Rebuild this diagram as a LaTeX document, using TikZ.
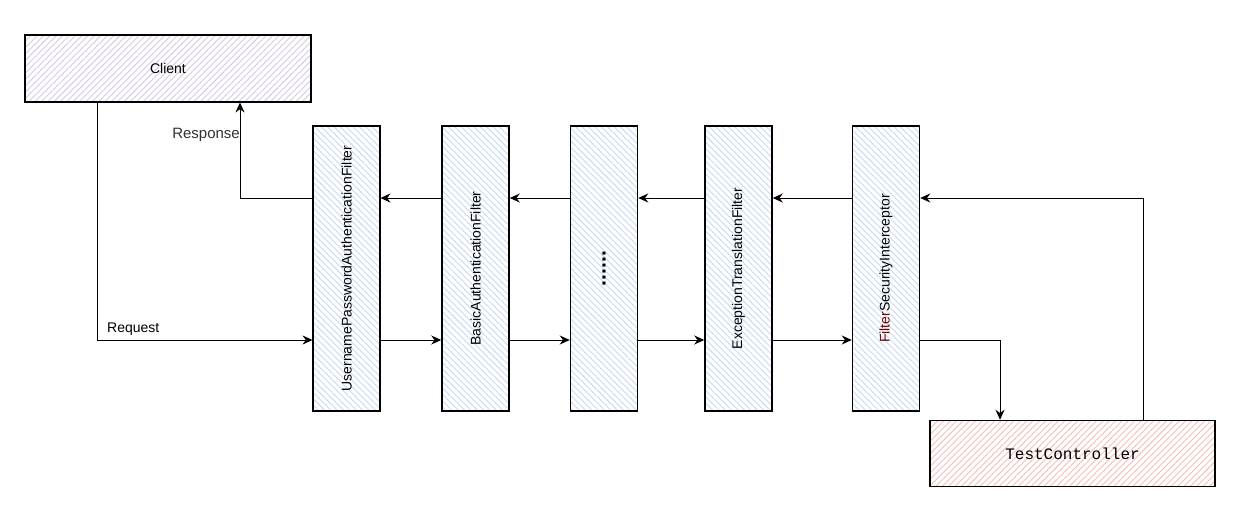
\documentclass[tikz,border=0pt]{standalone}
\usepackage{fontspec}
\setmainfont{Liberation Sans}
\newfontfamily\codefont{Liberation Mono}
\usetikzlibrary{arrows.meta,patterns.meta}

\definecolor{clienthatch}{HTML}{D9C8E2}
\definecolor{filterhatch}{HTML}{C6D8F4}
\definecolor{ctrlhatch}{HTML}{F5BDBA}
\definecolor{labelgray}{HTML}{333333}
\definecolor{filterred}{HTML}{6E0000}

\begin{document}
\begin{tikzpicture}[
  x=1pt,y=-1pt,>={Stealth[length=10pt,width=9pt]},
  every node/.style={font=\fontsize{14}{16}\selectfont},
  client/.style={draw,line width=1.5pt,minimum width=286pt,minimum height=67pt,
    pattern={Lines[angle=45,distance=4.5pt,line width=.9pt]},pattern color=clienthatch},
  filterbox/.style={draw,line width=1.5pt,minimum width=67pt,minimum height=285pt,inner sep=0pt,
    pattern={Lines[angle=-45,distance=4.5pt,line width=.9pt]},pattern color=filterhatch},
  controller/.style={draw,line width=1.5pt,minimum width=285pt,minimum height=66pt,
    pattern={Lines[angle=45,distance=4.5pt,line width=.9pt]},pattern color=ctrlhatch,
    font=\codefont\fontsize{16}{18}\selectfont},
  flow/.style={->,line width=1pt}
]
\useasboundingbox (0,0) rectangle (1260,512);
\node[client] (client) at (168,68.5) {Client};
\node[filterbox] (upaf) at (346.5,268.5) {\rotatebox{90}{UsernamePasswordAuthenticationFilter}};
\node[filterbox] (baf) at (475.5,268.5) {\rotatebox{90}{BasicAuthenticationFilter}};
\node[filterbox,font=\fontsize{21}{24}\selectfont] (more) at (604,268.5) {\rotatebox{90}{\textbf{......}}};
\node[filterbox] (etf) at (738.5,268.5) {\rotatebox{90}{ExceptionTranslationFilter}};
\node[filterbox] (fsi) at (886,268.5) {\rotatebox{90}{\textcolor{filterred}{Filter}SecurityInterceptor}};
\node[controller] (ctrl) at (1072.5,453.5) {TestController};
% rows of the chain
\coordinate (back) at (240,198);
\coordinate (go) at (97,340);
\coordinate (down) at (1000,340);
\coordinate (up) at (1143,198);
% request path
\draw[flow] (client.south -| go) |- (upaf.west |- go);
\node[anchor=south west,inner sep=2pt] (req) at (105,338) {Request};
\draw[flow] (upaf.east |- go) -- (baf.west |- go);
\draw[flow] (baf.east |- go) -- (more.west |- go);
\draw[flow] (more.east |- go) -- (etf.west |- go);
\draw[flow] (etf.east |- go) -- (fsi.west |- go);
\draw[flow] (fsi.east |- down) -| (ctrl.north -| down);
% response path
\draw[flow] (ctrl.north -| up) |- (fsi.east |- up);
\draw[flow] (fsi.west |- up) -- (etf.east |- up);
\draw[flow] (etf.west |- up) -- (more.east |- up);
\draw[flow] (more.west |- up) -- (baf.east |- up);
\draw[flow] (baf.west |- up) -- (upaf.east |- up);
\draw[flow] (upaf.west |- back) -| (client.south -| back);
\node[anchor=east,inner sep=0pt,text=labelgray,font=\fontsize{15}{17}\selectfont] (resp) at (240,135) {Response};
\end{tikzpicture}
\end{document}
